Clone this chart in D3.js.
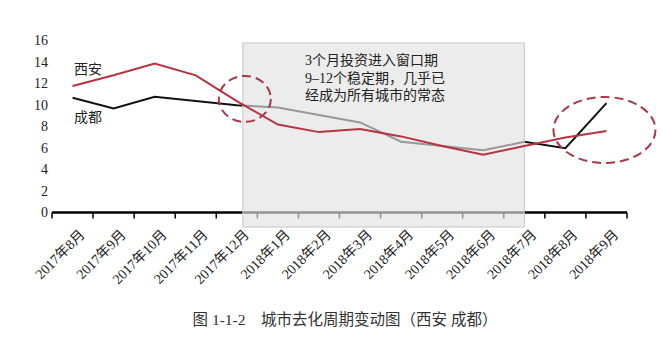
<!DOCTYPE html>
<html>
<head>
<meta charset="utf-8">
<script src="https://cdn.jsdelivr.net/npm/d3@7"></script>
<style>
  body { margin: 0; background: #fff; }
  svg text { font-family: "Liberation Serif", "Noto Sans CJK SC", serif; }
</style>
</head>
<body>
<div id="chart"></div>
<script>
const months = ['2017年8月', '2017年9月', '2017年10月', '2017年11月', '2017年12月', '2018年1月', '2018年2月',
    '2018年3月', '2018年4月', '2018年5月', '2018年6月', '2018年7月', '2018年8月', '2018年9月'];
const xian = [11.8, 12.8, 13.9, 12.8, 10.4, 8.2, 7.5, 7.8, 7.1, 6.2, 5.4, 6.2, 7.0, 7.6];
const chengdu = [10.7, 9.7, 10.8, 10.4, 10.0, 9.8, 9.1, 8.4, 6.6, 6.2, 5.8, 6.6, 6.0, 10.2];
const yTicks = [0, 2, 4, 6, 8, 10, 12, 14, 16];
const noteLines = ['3个月投资进入窗口期', '9–12个稳定期，几乎已', '经成为所有城市的常态'];
const caption = '图 1-1-2　城市去化周期变动图（西安 成都）';

const width = 662, height = 340;
const margin = {top: 41, right: 35, bottom: 127, left: 52};

const svg = d3.select('#chart').append('svg')
    .attr('width', width)
    .attr('height', height);

const x = d3.scaleBand()
    .domain(months)
    .range([margin.left, width - margin.right]);

const y = d3.scaleLinear()
    .domain([0, 16])
    .range([height - margin.bottom - 0.5, margin.top]);

const cx = d => x(d) + x.bandwidth() / 2;
const line = d3.line()
    .x((d, i) => cx(months[i]))
    .y(d => y(d));

// y tick labels (no axis line)
svg.append('g')
    .selectAll('text')
    .data(yTicks)
    .join('text')
    .attr('x', 48)
    .attr('y', d => y(d))
    .attr('dy', '0.32em')
    .attr('text-anchor', 'end')
    .style('font-size', '14px')
    .attr('fill', '#222')
    .text(d => d);

// x axis
const xAxis = svg.append('g')
    .attr('transform', `translate(0, ${y(0)})`);
xAxis.append('line')
    .attr('x1', margin.left)
    .attr('x2', width - margin.right)
    .attr('stroke', '#000')
    .attr('stroke-width', 2.5);
const bounds = months.map(m => x(m)).concat([x(months[months.length - 1]) + x.bandwidth()]);
xAxis.selectAll('.tick')
    .data(bounds)
    .join('line')
    .attr('class', 'tick')
    .attr('x1', d => d).attr('x2', d => d)
    .attr('y1', 0).attr('y2', 6)
    .attr('stroke', '#000')
    .attr('stroke-width', 1.5);
xAxis.selectAll('.lbl')
    .data(months)
    .join('text')
    .attr('class', 'lbl')
    .attr('transform', d => `translate(${cx(d) + 13}, 23) rotate(-45)`)
    .attr('text-anchor', 'end')
    .style('font-size', '14px')
    .attr('fill', '#222')
    .text(d => d);

// chengdu goes under the shaded box
svg.append('path')
    .datum(chengdu)
    .attr('d', line)
    .attr('fill', 'none')
    .attr('stroke', '#111')
    .attr('stroke-width', 2);

// shaded window 2017年12月 .. 2018年7月
const boxX0 = cx(months[4]) + 6, boxX1 = cx(months[11]);
svg.append('rect')
    .attr('x', boxX0)
    .attr('y', 43)
    .attr('width', boxX1 - boxX0)
    .attr('height', 184)
    .attr('fill', '#e2e2e2')
    .attr('fill-opacity', 0.65)
    .attr('stroke', '#c8c8c8')
    .attr('stroke-width', 1);

svg.append('g')
    .selectAll('text')
    .data(noteLines)
    .join('text')
    .attr('x', 305)
    .attr('y', (d, i) => 65 + i * 17.5)
    .style('font-size', '14px')
    .attr('fill', '#222')
    .text(d => d);

// xian on top
svg.append('path')
    .datum(xian)
    .attr('d', line)
    .attr('fill', 'none')
    .attr('stroke', '#b83240')
    .attr('stroke-width', 2);

// series labels
svg.append('text')
    .attr('x', 74).attr('y', 74)
    .style('font-size', '14px')
    .attr('fill', '#222')
    .text('西安');
svg.append('text')
    .attr('x', 74).attr('y', 122)
    .style('font-size', '14px')
    .attr('fill', '#222')
    .text('成都');

// dashed circles
svg.append('ellipse')
    .attr('cx', cx(months[4]) + 8).attr('cy', y(10.6))
    .attr('rx', 26).attr('ry', 23)
    .attr('fill', 'none')
    .attr('stroke', '#a83848')
    .attr('stroke-width', 2)
    .attr('stroke-dasharray', '9,5');
svg.append('ellipse')
    .attr('cx', cx(months[13]) - 2).attr('cy', y(7.7))
    .attr('rx', 51).attr('ry', 33)
    .attr('fill', 'none')
    .attr('stroke', '#a83848')
    .attr('stroke-width', 2)
    .attr('stroke-dasharray', '9,5');

// caption
svg.append('text')
    .attr('x', 345)
    .attr('y', 325)
    .attr('text-anchor', 'middle')
    .style('font-size', '15.5px')
    .attr('fill', '#333')
    .text(caption);
</script>
</body>
</html>
